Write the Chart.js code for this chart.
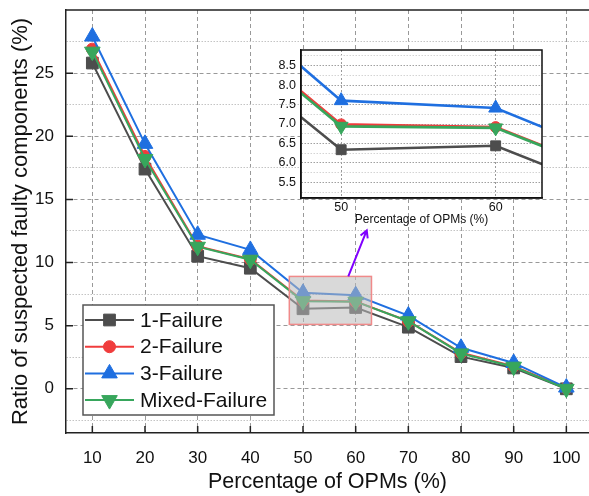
<!DOCTYPE html>
<html lang="en">
<head>
<meta charset="UTF-8">
<title>Suspected faulty components vs OPMs</title>
<script src="https://cdn.jsdelivr.net/npm/chart.js@4"></script>
<style>
  body { margin: 0; background: #fff; }
  #wrap { position: relative; width: 589px; height: 496px; overflow: hidden; }
  #mainChart { position: absolute; left: 0; top: 0; }
  #zoomChart { position: absolute; left: 262px; top: 40px; }
</style>
</head>
<body>
<div id="wrap">
  <canvas id="mainChart" width="589" height="496"></canvas>
  <canvas id="zoomChart" width="290" height="190"></canvas>
</div>
<script>
// data
const opms = [10, 20, 30, 40, 50, 60, 70, 80, 90, 100];
const oneFailure   = [25.8, 17.4, 10.5, 9.55, 6.34, 6.44, 4.88, 2.55, 1.65, 0.0];
const twoFailure   = [26.9, 18.4, 11.3, 10.26, 6.99, 6.92, 5.35, 2.85, 1.80, 0.05];
const threeFailure = [27.9, 19.4, 12.2, 11.0, 7.60, 7.41, 5.80, 3.25, 2.05, 0.1];
const mixedFailure = [26.7, 18.2, 11.25, 10.22, 6.94, 6.90, 5.35, 2.80, 1.75, 0.0];

const seriesNames  = ['1-Failure', '2-Failure', '3-Failure', 'Mixed-Failure'];
const seriesColors = ['#4d4d4d', '#f03c3c', '#1f6fe0', '#37a65c'];
const seriesStyles = ['rect', 'circle', 'triangle', 'triangle'];
const seriesRotation = [0, 0, 0, 180];
const seriesValues = [oneFailure, twoFailure, threeFailure, mixedFailure];

// main axes
const xRange = [5, 104.3];
const yRange = [-3.5, 30];
const yGridTicks = [-2.5, 0, 2.5, 5, 7.5, 10, 12.5, 15, 17.5, 20, 22.5, 25, 27.5];
const yTickLabels = [0, 5, 10, 15, 20, 25];

// zoom window (inset)
const zoomX = [47.4, 63];
const zoomY = [5.1, 8.9];
const zoomXTicks = [50, 60];
const zoomYGrid = [5.25, 5.5, 5.75, 6, 6.25, 6.5, 6.75, 7, 7.25, 7.5, 7.75, 8, 8.25, 8.5, 8.75];
const zoomYLabels = [5.5, 6, 6.5, 7, 7.5, 8, 8.5];
const arrowFrom = [58.6, 8.9];
const arrowTo = [62.1, 12.55];

Chart.defaults.font.family = '"Liberation Sans", Arial, sans-serif';
Chart.defaults.color = '#111';

const font = 'Liberation Sans';

function makeDatasets(sizes, lw) {
  return seriesNames.map((name, i) => ({
    label: name,
    data: opms.map((x, j) => ({ x: x, y: seriesValues[i][j] })),
    borderColor: seriesColors[i],
    backgroundColor: seriesColors[i],
    pointBackgroundColor: seriesColors[i],
    pointBorderColor: seriesColors[i],
    pointBorderWidth: 1,
    pointStyle: seriesStyles[i],
    pointRotation: seriesRotation[i],
    pointRadius: sizes[i],
    borderWidth: lw,
    tension: 0,
    order: 4 - i,
    clip: 0
  }));
}

function marker(ctx, style, rot, r, x, y, color) {
  ctx.save();
  ctx.fillStyle = color;
  ctx.strokeStyle = color;
  ctx.lineWidth = 1;
  ctx.beginPath();
  if (style === 'rect') {
    const s = Math.SQRT1_2 * r;
    ctx.rect(x - s, y - s, 2 * s, 2 * s);
  } else if (style === 'circle') {
    ctx.arc(x, y, r, 0, Math.PI * 2);
  } else {
    let a = rot * Math.PI / 180;
    ctx.moveTo(x + Math.sin(a) * r, y - Math.cos(a) * r);
    a += 2 * Math.PI / 3;
    ctx.lineTo(x + Math.sin(a) * r, y - Math.cos(a) * r);
    a += 2 * Math.PI / 3;
    ctx.lineTo(x + Math.sin(a) * r, y - Math.cos(a) * r);
    ctx.closePath();
  }
  ctx.fill();
  ctx.stroke();
  ctx.restore();
}

const mainDecor = {
  id: 'mainDecor',
  afterDatasetsDraw(chart) {
    const { ctx, scales } = chart;
    const xs = scales.x, ys = scales.y;
    // zoom box
    const x0 = xs.getPixelForValue(zoomX[0]), x1 = xs.getPixelForValue(zoomX[1]);
    const y0 = ys.getPixelForValue(zoomY[1]), y1 = ys.getPixelForValue(zoomY[0]);
    ctx.save();
    ctx.fillStyle = 'rgba(185,185,185,0.55)';
    ctx.fillRect(x0, y0, x1 - x0, y1 - y0);
    ctx.strokeStyle = '#f08a8a';
    ctx.lineWidth = 1.5;
    ctx.strokeRect(x0, y0, x1 - x0, y1 - y0);
    // arrow
    const ax = xs.getPixelForValue(arrowFrom[0]), ay = ys.getPixelForValue(arrowFrom[1]);
    const bx = xs.getPixelForValue(arrowTo[0]), by = ys.getPixelForValue(arrowTo[1]);
    const ang = Math.atan2(by - ay, bx - ax);
    ctx.strokeStyle = '#8000ff';
    ctx.lineWidth = 2;
    ctx.beginPath();
    ctx.moveTo(ax, ay);
    ctx.lineTo(bx, by);
    ctx.moveTo(bx - 8 * Math.cos(ang - 0.5), by - 8 * Math.sin(ang - 0.5));
    ctx.lineTo(bx, by);
    ctx.lineTo(bx - 8 * Math.cos(ang + 0.5), by - 8 * Math.sin(ang + 0.5));
    ctx.stroke();
    ctx.restore();
  },
  afterDraw(chart) {
    const { ctx, chartArea, scales } = chart;
    ctx.save();
    // top frame line
    ctx.strokeStyle = '#222';
    ctx.lineWidth = 1.5;
    ctx.beginPath();
    ctx.moveTo(chartArea.left, chartArea.top);
    ctx.lineTo(chartArea.right, chartArea.top);
    // inward ticks
    yTickLabels.forEach(v => {
      const p = scales.y.getPixelForValue(v);
      ctx.moveTo(chartArea.left, p);
      ctx.lineTo(chartArea.left + 7, p);
    });
    opms.forEach(v => {
      const p = scales.x.getPixelForValue(v);
      ctx.moveTo(p, chartArea.bottom);
      ctx.lineTo(p, chartArea.bottom - 7);
    });
    ctx.stroke();

    // legend
    const lx = 83, ly = 305, lw = 191, lh = 110;
    ctx.fillStyle = '#fff';
    ctx.fillRect(lx, ly, lw, lh);
    ctx.strokeStyle = '#555';
    ctx.lineWidth = 1.5;
    ctx.strokeRect(lx, ly, lw, lh);
    ctx.font = '21px "' + font + '"';
    ctx.textBaseline = 'middle';
    ctx.textAlign = 'left';
    seriesNames.forEach((name, i) => {
      const y = ly + 15 + i * 26.7;
      ctx.strokeStyle = seriesColors[i];
      ctx.lineWidth = 2;
      ctx.beginPath();
      ctx.moveTo(lx + 2, y);
      ctx.lineTo(lx + 51, y);
      ctx.stroke();
      const r = seriesStyles[i] === 'rect' ? 8.3 : seriesStyles[i] === 'circle' ? 6 : 9;
      marker(ctx, seriesStyles[i], seriesRotation[i], r, lx + 26.5, y, seriesColors[i]);
      ctx.fillStyle = '#111';
      ctx.fillText(name, lx + 57, y + 1);
    });
    ctx.restore();
  }
};

new Chart(document.getElementById('mainChart'), {
  type: 'line',
  data: { datasets: makeDatasets([8.3, 6, 9, 9], 2) },
  options: {
    responsive: false,
    animation: false,
    layout: { autoPadding: false, padding: { top: 10, right: 0, left: 0, bottom: 0 } },
    plugins: { legend: { display: false }, tooltip: { enabled: false } },
    scales: {
      x: {
        type: 'linear',
        min: xRange[0],
        max: xRange[1],
        afterBuildTicks: s => { s.ticks = opms.map(v => ({ value: v })); },
        afterFit: s => { s.height = 63; s.paddingLeft = 0; s.paddingRight = 0; },
        ticks: { font: { size: 17 }, padding: 15, maxRotation: 0, autoSkip: false },
        grid: { color: '#999', lineWidth: 1, drawTicks: false },
        border: { display: true, color: '#222', width: 1.5, dash: [4, 3] },
        title: { display: true, text: 'Percentage of OPMs (%)', font: { size: 21.5 }, padding: { top: 0, bottom: 1 } }
      },
      y: {
        type: 'linear',
        min: yRange[0],
        max: yRange[1],
        afterBuildTicks: s => { s.ticks = yGridTicks.map(v => ({ value: v })); },
        afterFit: s => { s.width = 66; s.paddingTop = 0; s.paddingBottom = 0; },
        ticks: {
          font: { size: 17 },
          padding: 12,
          autoSkip: false,
          callback: v => yTickLabels.includes(v) ? String(v) : ''
        },
        grid: {
          color: c => (c.tick && yTickLabels.includes(c.tick.value)) ? '#999' : '#c4c4c4',
          lineWidth: 1,
          drawTicks: false
        },
        border: {
          display: true, color: '#222', width: 1.5,
          dash: c => (c.tick && yTickLabels.includes(c.tick.value)) ? [4, 3] : [1.5, 1.5]
        },
        title: { display: true, text: 'Ratio of suspected faulty components (%)', font: { size: 22 }, padding: { top: 8, bottom: 0 } }
      }
    }
  },
  plugins: [mainDecor]
});

const zoomDecor = {
  id: 'zoomDecor',
  beforeDraw(chart) {
    const { ctx, chartArea: a } = chart;
    ctx.save();
    ctx.fillStyle = '#fff';
    ctx.fillRect(a.left, a.top, a.right - a.left, a.bottom - a.top);
    ctx.restore();
  },
  afterDraw(chart) {
    const { ctx, chartArea: a } = chart;
    ctx.save();
    ctx.strokeStyle = '#111';
    ctx.lineWidth = 1.5;
    ctx.strokeRect(a.left, a.top, a.right - a.left, a.bottom - a.top);
    ctx.restore();
  }
};

new Chart(document.getElementById('zoomChart'), {
  type: 'line',
  data: { datasets: makeDatasets([7, 5.5, 8, 8], 2.6) },
  options: {
    responsive: false,
    animation: false,
    layout: { autoPadding: false, padding: { top: 10, right: 10, left: 0, bottom: 0 } },
    plugins: { legend: { display: false }, tooltip: { enabled: false } },
    scales: {
      x: {
        type: 'linear',
        min: zoomX[0],
        max: zoomX[1],
        afterBuildTicks: s => { s.ticks = zoomXTicks.map(v => ({ value: v })); },
        afterFit: s => { s.height = 32; s.paddingLeft = 0; s.paddingRight = 0; },
        ticks: { font: { size: 12.5 }, padding: 2, maxRotation: 0, autoSkip: false },
        grid: { color: '#999', lineWidth: 1, drawTicks: false },
        border: { display: true, color: '#111', width: 1.5, dash: [2, 2] },
        title: { display: true, text: 'Percentage of OPMs (%)', font: { size: 12 }, padding: { top: 0, bottom: 3 } }
      },
      y: {
        type: 'linear',
        min: zoomY[0],
        max: zoomY[1],
        afterBuildTicks: s => { s.ticks = zoomYGrid.map(v => ({ value: v })); },
        afterFit: s => { s.width = 39; s.paddingTop = 0; s.paddingBottom = 0; },
        ticks: {
          font: { size: 12.5 },
          padding: 5,
          autoSkip: false,
          callback: v => zoomYLabels.includes(v) ? v.toFixed(1) : ''
        },
        grid: {
          color: c => (c.tick && zoomYLabels.includes(c.tick.value)) ? '#a0a0a0' : '#d4d4d4',
          lineWidth: 1,
          drawTicks: false
        },
        border: { display: true, color: '#111', width: 1.5, dash: [1.5, 1.5] }
      }
    }
  },
  plugins: [zoomDecor]
});
</script>
</body>
</html>
